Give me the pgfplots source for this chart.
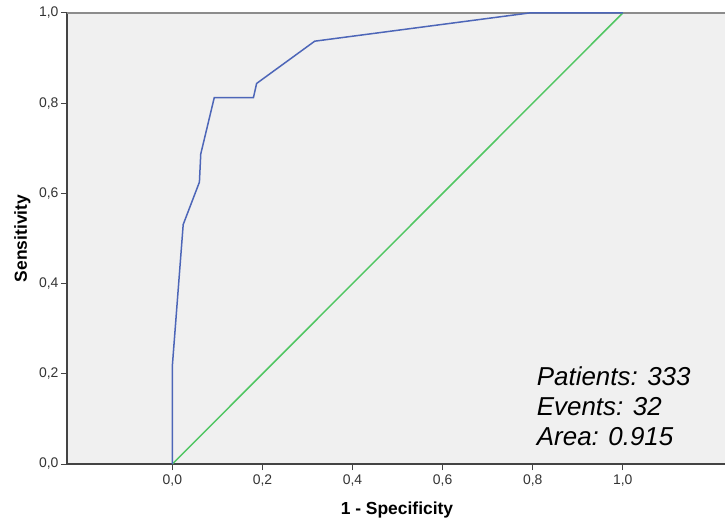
\documentclass[border=0pt]{standalone}
\usepackage{fontspec}
\setmainfont{Liberation Sans}
\usepackage{pgfplots}
\pgfplotsset{compat=1.18}
\definecolor{bgc}{HTML}{F0F0F0}
\definecolor{roc}{HTML}{4D66B8}
\definecolor{ref}{HTML}{50C662}
\definecolor{axc}{HTML}{444444}
\begin{document}
\begin{tikzpicture}
\begin{axis}[
  at={(0,0)}, anchor=south west,
  scale only axis, width=658bp, height=451bp,
  xmin=-0.234, xmax=1.227, ymin=0, ymax=1,
  axis x line*=bottom, axis y line*=left,
  axis line style={axc, line width=1.6bp, -},
  axis background/.style={fill=bgc},
  xtick={0,0.2,0.4,0.6,0.8,1}, ytick={0,0.2,0.4,0.6,0.8,1},
  tick align=outside, major tick length=6bp,
  tick style={axc, line width=1bp},
  /pgf/number format/.cd, use comma, fixed, fixed zerofill, precision=1, assume math mode=true,
  /pgfplots/.cd,
  tick label style={font=\fontsize{14}{16}\selectfont, text=black!80},
  xticklabel style={yshift=-1bp},
  yticklabel style={xshift=1bp},
  xlabel={\textbf{1 - Specificity}}, ylabel={\textbf{Sensitivity}},
  label style={font=\fontsize{17.5}{20}\selectfont},
  xlabel style={at={(axis description cs:0.5015,-0.102)}, anchor=center},
  ylabel style={at={(axis description cs:-0.068,0.5)}, anchor=center},
  clip=false,
]
\draw[gray!90, line width=1.5bp] (rel axis cs:0,1) -- (rel axis cs:1,1);
\addplot[ref, line width=1.5bp] coordinates {(0,0) (1,1)};
\addplot[roc, line width=1.5bp] coordinates {
(0,0) (0,0.219) (0.024,0.531) (0.060,0.625) (0.063,0.6875) (0.093,0.8125)
(0.180,0.8125) (0.187,0.84375) (0.316,0.9375) (0.792,1) (1,1)};
\node[anchor=base west, font=\itshape\fontsize{26}{30}\selectfont, inner sep=0pt] at (axis cs:0.809,0.174) {Patients: 333};
\node[anchor=base west, font=\itshape\fontsize{26}{30}\selectfont, inner sep=0pt] at (axis cs:0.809,0.107) {Events: 32};
\node[anchor=base west, font=\itshape\fontsize{26}{30}\selectfont, inner sep=0pt] at (axis cs:0.809,0.040) {Area: 0.915};
\end{axis}
\pgfresetboundingbox
\path[use as bounding box] (-67bp,-61bp) rectangle (658bp,464bp);
\end{tikzpicture}
\end{document}
